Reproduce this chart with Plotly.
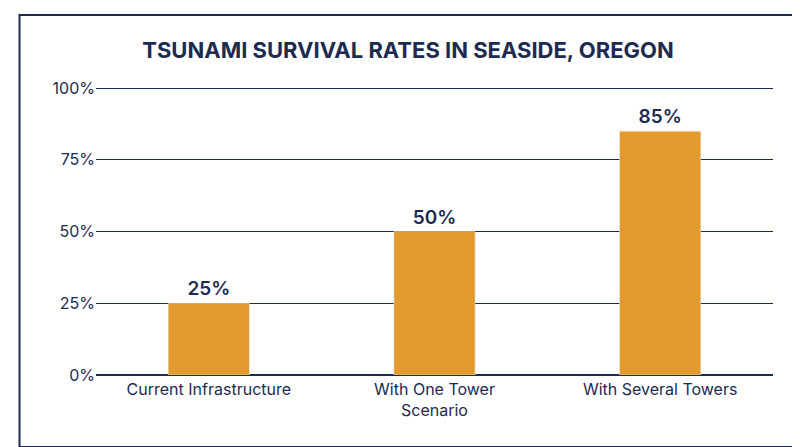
import plotly.graph_objects as go

categories = ["Current Infrastructure", "With One Tower", "With Several Towers"]
values = [25, 50, 85]
labels = ["25%", "50%", "85%"]
tick_vals = [0, 25, 50, 75, 100]
tick_text = ["0%", "25%", "50%", "75%", "100%"]

navy = "#1c2b4f"
fig = go.Figure(go.Bar(x=categories, y=values, text=labels, textposition="outside",
                       marker_color="#e39b2e", cliponaxis=False,
                       textfont=dict(size=19, color=navy, family="Inter", weight=600)))
fig.update_layout(
    width=800, height=447, paper_bgcolor="white", plot_bgcolor="white",
    margin=dict(l=88, r=35, t=79, b=80, autoexpand=False), bargap=0.64, showlegend=False,
    font=dict(family="Inter", color=navy, size=16),
    title=dict(text="TSUNAMI SURVIVAL RATES IN SEASIDE, OREGON", x=0.5, xanchor="center",
               y=0.905, yanchor="middle", font=dict(size=22, color=navy, family="Inter", weight=700)),
    shapes=[dict(type="rect", xref="paper", yref="paper", x0=-0.113, x1=1.04, y0=-0.25, y1=1.25,
                 line=dict(color=navy, width=2))],
)
fig.update_yaxes(range=[0, 100.4], tickvals=tick_vals, ticktext=tick_text,
                 gridcolor=navy, gridwidth=1, showline=False, zeroline=True, zerolinecolor=navy,
                 tickfont=dict(size=16, color=navy))
fig.update_xaxes(title=dict(text="Scenario", font=dict(size=16, color=navy), standoff=6),
                 showline=True, linecolor=navy, tickfont=dict(size=16, color=navy))
fig.write_html("out.html")
